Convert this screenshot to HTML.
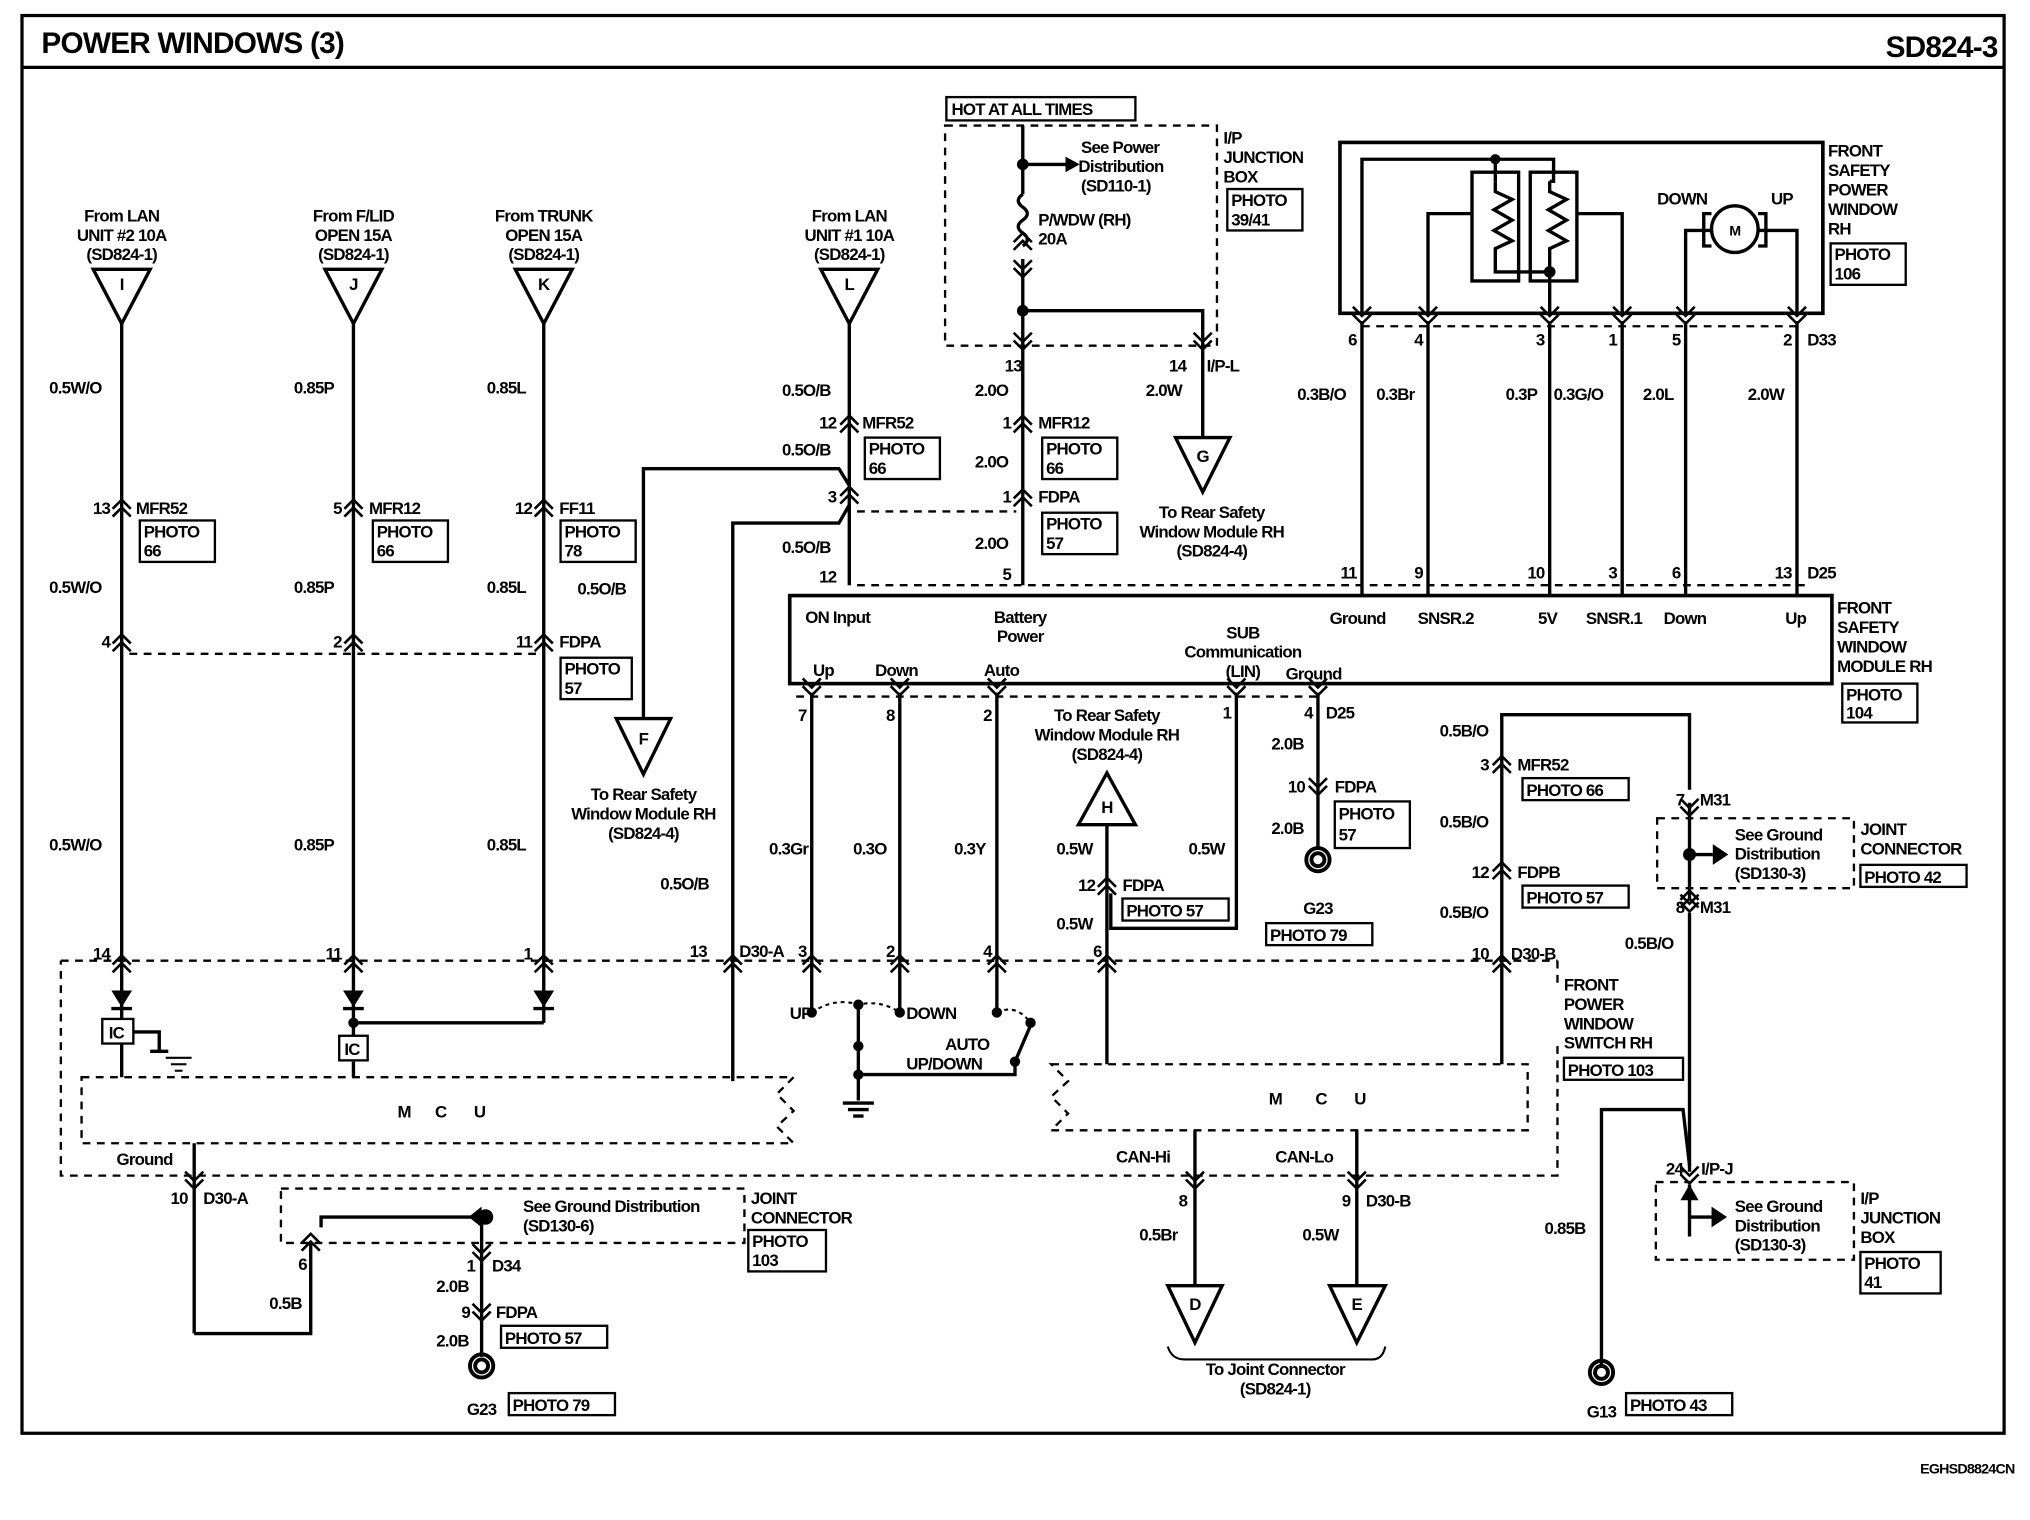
<!DOCTYPE html>
<html><head><meta charset="utf-8"><style>
html,body{margin:0;padding:0;background:#fff}
svg{display:block}
text{font-family:"Liberation Sans",Arial,sans-serif;font-weight:bold;font-size:13px;fill:#000;letter-spacing:-0.6px}
.w{stroke:#000;stroke-width:2.6;fill:none}
.th{stroke:#000;stroke-width:1.6;fill:none}
.ds{stroke:#000;stroke-width:1.8;fill:none;stroke-dasharray:6,5}
.pb{stroke:#000;stroke-width:1.8;fill:#fff}
.m{text-anchor:middle}
.e{text-anchor:end}
</style></head><body>
<svg width="2030" height="1520" viewBox="0 0 1568 1174" preserveAspectRatio="none" xmlns="http://www.w3.org/2000/svg">
<defs>
<path id="c" d="M-7,5 L0,-2 L7,5 M-7,11 L0,4 L7,11" stroke="#000" stroke-width="2" fill="none"/>
<path id="d" d="M-7,-5 L0,2 L7,-5 M-7,-11 L0,-4 L7,-11" stroke="#000" stroke-width="2" fill="none"/>
<path id="gnd" d="M-9,0 A9,9 0 1,1 9,0 A9,9 0 1,1 -9,0 M-5,0 A5,5 0 1,1 5,0 A5,5 0 1,1 -5,0" stroke="#000" stroke-width="3" fill="none"/>
</defs>
<rect x="17" y="12" width="1531" height="1095" fill="none" stroke="#000" stroke-width="2.5"/>
<line x1="17" y1="52" x2="1548" y2="52" stroke="#000" stroke-width="2.5"/>
<text x="32" y="41" style="font-size:23px">POWER WINDOWS (3)</text>
<text x="1543" y="44" class="e" style="font-size:23px">SD824-3</text>
<text x="1556" y="1138" class="e" style="font-size:11px">EGHSD8824CN</text>

<!-- source triangles -->
<g class="w">
<path d="M72,208 L116,208 L94,250 Z"/><path d="M251,208 L295,208 L273,250 Z"/><path d="M398,208 L442,208 L420,250 Z"/><path d="M634,208 L678,208 L656,250 Z"/>
<path d="M476,555 L518,555 L497,598 Z"/><path d="M908,338 L950,338 L929,380 Z"/><path d="M833,637 L877,637 L855,597 Z"/>
<path d="M902,993 L944,993 L923,1037 Z"/><path d="M1027,993 L1070,993 L1048,1037 Z"/>
</g>
<text x="94" y="224" class="m">I</text><text x="273" y="224" class="m">J</text><text x="420" y="224" class="m">K</text><text x="656" y="224" class="m">L</text>
<text x="497" y="575" class="m">F</text><text x="929" y="357" class="m">G</text><text x="855" y="628" class="m">H</text>
<text x="923" y="1012" class="m">D</text><text x="1048" y="1012" class="m">E</text>
<text x="94" y="171" class="m">From LAN</text><text x="94" y="186" class="m">UNIT #2 10A</text><text x="94" y="201" class="m">(SD824-1)</text>
<text x="273" y="171" class="m">From F/LID</text><text x="273" y="186" class="m">OPEN 15A</text><text x="273" y="201" class="m">(SD824-1)</text>
<text x="420" y="171" class="m">From TRUNK</text><text x="420" y="186" class="m">OPEN 15A</text><text x="420" y="201" class="m">(SD824-1)</text>
<text x="656" y="171" class="m">From LAN</text><text x="656" y="186" class="m">UNIT #1 10A</text><text x="656" y="201" class="m">(SD824-1)</text>

<!-- vertical wires left -->
<g class="w">
<line x1="94" y1="250" x2="94" y2="790"/><line x1="273" y1="250" x2="273" y2="800"/><line x1="420" y1="250" x2="420" y2="790"/>
<line x1="656" y1="250" x2="656" y2="452"/>
<path d="M497,555 L497,362 L648,362 L656,375"/>
<path d="M566,835 L566,404 L648,404 L656,390"/>
<path d="M273,790 L420,790"/>
</g>
<g>
<use href="#c" x="94" y="388"/><use href="#c" x="94" y="492"/><use href="#c" x="94" y="740"/>
<use href="#c" x="273" y="388"/><use href="#c" x="273" y="492"/><use href="#c" x="273" y="740"/>
<use href="#c" x="420" y="388"/><use href="#c" x="420" y="492"/><use href="#c" x="420" y="740"/>
<use href="#c" x="656" y="323"/><use href="#c" x="656" y="378"/>
<use href="#c" x="566" y="740"/><use href="#c" x="627" y="740"/><use href="#c" x="695" y="740"/><use href="#c" x="770" y="740"/><use href="#c" x="855" y="740"/><use href="#c" x="1160" y="740"/>
</g>
<line class="ds" x1="100" y1="505" x2="415" y2="505"/>
<text x="38" y="304">0.5W/O</text><text x="38" y="458">0.5W/O</text><text x="38" y="657">0.5W/O</text>
<text x="227" y="304">0.85P</text><text x="227" y="458">0.85P</text><text x="227" y="657">0.85P</text>
<text x="376" y="304">0.85L</text><text x="376" y="458">0.85L</text><text x="376" y="657">0.85L</text>
<text x="85" y="397" class="e">13</text><text x="105" y="397">MFR52</text>
<text x="264" y="397" class="e">5</text><text x="285" y="397">MFR12</text>
<text x="411" y="397" class="e">12</text><text x="432" y="397">FF11</text>
<text x="85" y="500" class="e">4</text><text x="264" y="500" class="e">2</text><text x="411" y="500" class="e">11</text><text x="432" y="500">FDPA</text>
<text x="85" y="741" class="e">14</text><text x="264" y="741" class="e">11</text><text x="411" y="741" class="e">1</text>
<text x="446" y="459">0.5O/B</text>
<text x="510" y="687">0.5O/B</text>
<text x="497" y="618" class="m">To Rear Safety</text><text x="497" y="633" class="m">Window Module RH</text><text x="497" y="648" class="m">(SD824-4)</text>

<!-- photo boxes -->
<g class="pb">
<rect x="108" y="402" width="58" height="32"/><rect x="288" y="402" width="58" height="32"/><rect x="433" y="402" width="58" height="32"/><rect x="433" y="508" width="55" height="32"/>
<rect x="668" y="338" width="58" height="32"/><rect x="805" y="338" width="58" height="32"/><rect x="805" y="396" width="58" height="32"/>
<rect x="948" y="146" width="58" height="32"/><rect x="1414" y="188" width="58" height="32"/><rect x="1423" y="528" width="58" height="30"/>
<rect x="1031" y="619" width="58" height="36"/><rect x="1176" y="601" width="82" height="17"/><rect x="1176" y="684" width="82" height="17"/>
<rect x="1437" y="668" width="82" height="17"/><rect x="1208" y="817" width="92" height="17"/><rect x="1437" y="967" width="62" height="32"/>
<rect x="867" y="694" width="82" height="17"/><rect x="978" y="713" width="82" height="17"/><rect x="578" y="950" width="60" height="32"/>
<rect x="387" y="1024" width="82" height="17"/><rect x="393" y="1076" width="82" height="17"/><rect x="1256" y="1076" width="82" height="17"/>
</g>
<text x="111" y="415">PHOTO</text><text x="111" y="430">66</text>
<text x="291" y="415">PHOTO</text><text x="291" y="430">66</text>
<text x="436" y="415">PHOTO</text><text x="436" y="430">78</text>
<text x="436" y="521">PHOTO</text><text x="436" y="536">57</text>
<text x="671" y="351">PHOTO</text><text x="671" y="366">66</text>
<text x="808" y="351">PHOTO</text><text x="808" y="366">66</text>
<text x="808" y="409">PHOTO</text><text x="808" y="424">57</text>
<text x="951" y="159">PHOTO</text><text x="951" y="174">39/41</text>
<text x="1417" y="201">PHOTO</text><text x="1417" y="216">106</text>
<text x="1426" y="541">PHOTO</text><text x="1426" y="555">104</text>
<text x="1034" y="633">PHOTO</text><text x="1034" y="649">57</text>
<text x="1179" y="615">PHOTO 66</text><text x="1179" y="698">PHOTO 57</text><text x="1440" y="682">PHOTO 42</text>
<text x="1211" y="831">PHOTO 103</text>
<text x="1440" y="980">PHOTO</text><text x="1440" y="995">41</text>
<text x="870" y="708">PHOTO 57</text><text x="981" y="727">PHOTO 79</text>
<text x="581" y="963">PHOTO</text><text x="581" y="978">103</text>
<text x="390" y="1038">PHOTO 57</text><text x="396" y="1090">PHOTO 79</text><text x="1259" y="1090">PHOTO 43</text>

<!-- column L and power -->
<text x="604" y="306">0.5O/B</text><text x="604" y="352">0.5O/B</text><text x="604" y="427">0.5O/B</text>
<text x="646" y="331" class="e">12</text><text x="666" y="331">MFR52</text>
<text x="646" y="388" class="e">3</text><text x="646" y="450" class="e">12</text>
<line class="ds" x1="662" y1="395" x2="785" y2="395"/>
<rect x="731" y="75" width="146" height="18" class="pb"/><text x="735" y="89">HOT AT ALL TIMES</text>
<rect x="730" y="97" width="210" height="170" class="ds"/>
<text x="945" y="111">I/P</text><text x="945" y="126">JUNCTION</text><text x="945" y="141">BOX</text>
<g class="w">
<line x1="790" y1="97" x2="790" y2="150"/>
<path d="M790,150 q-7,5 0,10 q7,5 0,10 q-7,5 0,10 q7,5 0,10"/>
<line x1="790" y1="200" x2="790" y2="452"/>
<path d="M790,240 L929,240 L929,338"/>
<path d="M790,127 L825,127"/>
</g>
<path d="M823,121 L834,127 L823,133 Z"/>
<circle cx="790" cy="127" r="4.5"/><circle cx="790" cy="240" r="4.5"/>
<use href="#c" x="790" y="182"/><use href="#d" x="790" y="212"/>
<text x="835" y="118">See Power</text><text x="833" y="133">Distribution</text><text x="835" y="148">(SD110-1)</text>
<text x="802" y="174">P/WDW (RH)</text><text x="802" y="189">20A</text>
<use href="#d" x="790" y="268"/><use href="#d" x="929" y="268"/>
<text x="776" y="287">13</text><text x="903" y="287">14</text><text x="932" y="287">I/P-L</text>
<text x="753" y="306">2.0O</text><text x="885" y="306">2.0W</text>
<use href="#c" x="790" y="323"/><text x="781" y="331" class="e">1</text><text x="802" y="331">MFR12</text>
<text x="753" y="361">2.0O</text>
<use href="#c" x="790" y="380"/><text x="781" y="388" class="e">1</text><text x="802" y="388">FDPA</text>
<text x="753" y="424">2.0O</text><text x="781" y="448" class="e">5</text>
<text x="936" y="400" class="m">To Rear Safety</text><text x="936" y="415" class="m">Window Module RH</text><text x="936" y="430" class="m">(SD824-4)</text>

<!-- Front safety power window RH -->
<rect x="1035" y="110" width="373" height="132" fill="none" stroke="#000" stroke-width="2.8"/>
<text x="1412" y="121">FRONT</text><text x="1412" y="136">SAFETY</text><text x="1412" y="151">POWER</text><text x="1412" y="166">WINDOW</text><text x="1412" y="181">RH</text>
<g class="w">
<rect x="1137" y="133" width="36" height="84"/><rect x="1182" y="133" width="36" height="84"/>
<path d="M1052,242 L1052,123 L1200,123 L1200,140 L1197,140 M1155,123 L1155,140"/>
<path d="M1155,140 l0,8 l13,6 l-14,8 l14,8 l-14,8 l14,8 l-13,6 l0,8 L1155,210 L1197,210 M1197,140 l0,8 l13,6 l-14,8 l14,8 l-14,8 l14,8 l-13,6 l0,8 L1197,242"/>
<path d="M1103,242 L1103,165 L1137,165 M1218,165 L1253,165 L1253,242"/>
<path d="M1302,242 L1302,178 L1322,178 M1358,178 L1388,178 L1388,242"/>
<circle cx="1340" cy="177" r="18"/>
<path d="M1322,165 L1316,165 L1316,190 L1322,190 M1358,165 L1364,165 L1364,190 L1358,190"/>
</g>
<circle cx="1155" cy="123" r="4"/><circle cx="1197" cy="210" r="4.5"/>
<text x="1340" y="182" class="m" style="font-size:11px">M</text>
<text x="1280" y="158">DOWN</text><text x="1368" y="158">UP</text>
<line class="ds" x1="1052" y1="252" x2="1388" y2="252"/>
<g><use href="#d" x="1052" y="248"/><use href="#d" x="1103" y="248"/><use href="#d" x="1197" y="248"/><use href="#d" x="1253" y="248"/><use href="#d" x="1302" y="248"/><use href="#d" x="1388" y="248"/></g>
<g class="w"><line x1="1052" y1="248" x2="1052" y2="460"/><line x1="1103" y1="248" x2="1103" y2="460"/><line x1="1197" y1="248" x2="1197" y2="460"/><line x1="1253" y1="248" x2="1253" y2="460"/><line x1="1302" y1="248" x2="1302" y2="460"/><line x1="1388" y1="248" x2="1388" y2="460"/></g>
<text x="1048" y="267" class="e">6</text><text x="1099" y="267" class="e">4</text><text x="1193" y="267" class="e">3</text><text x="1249" y="267" class="e">1</text><text x="1298" y="267" class="e">5</text><text x="1384" y="267" class="e">2</text><text x="1396" y="267">D33</text>
<text x="1002" y="309">0.3B/O</text><text x="1063" y="309">0.3Br</text><text x="1163" y="309">0.3P</text><text x="1200" y="309">0.3G/O</text><text x="1269" y="309">2.0L</text><text x="1350" y="309">2.0W</text>
<text x="1048" y="447" class="e">11</text><text x="1099" y="447" class="e">9</text><text x="1193" y="447" class="e">10</text><text x="1249" y="447" class="e">3</text><text x="1298" y="447" class="e">6</text><text x="1384" y="447" class="e">13</text><text x="1396" y="447">D25</text>
<line class="ds" x1="662" y1="452" x2="1395" y2="452"/>

<!-- module -->
<rect x="610" y="460" width="805" height="68" fill="#fff" stroke="#000" stroke-width="2.8"/>
<text x="622" y="481">ON Input</text><text x="788" y="481" class="m">Battery</text><text x="788" y="496" class="m">Power</text>
<text x="960" y="493" class="m">SUB</text><text x="960" y="508" class="m">Communication</text><text x="960" y="523" class="m">(LIN)</text>
<text x="1027" y="482">Ground</text><text x="1095" y="482">SNSR.2</text><text x="1188" y="482">5V</text><text x="1225" y="482">SNSR.1</text><text x="1285" y="482">Down</text><text x="1379" y="482">Up</text>
<text x="628" y="522">Up</text><text x="676" y="522">Down</text><text x="760" y="522">Auto</text><text x="993" y="525">Ground</text>
<text x="1419" y="474">FRONT</text><text x="1419" y="489">SAFETY</text><text x="1419" y="504">WINDOW</text><text x="1419" y="519">MODULE RH</text>
<line class="ds" x1="615" y1="538" x2="1020" y2="538"/>
<g><use href="#d" x="627" y="535"/><use href="#d" x="695" y="535"/><use href="#d" x="770" y="535"/><use href="#d" x="955" y="535"/><use href="#d" x="1018" y="535"/></g>
<g class="w">
<line x1="627" y1="535" x2="627" y2="782"/><line x1="695" y1="535" x2="695" y2="782"/><line x1="770" y1="535" x2="770" y2="782"/>
<path d="M955,535 L955,717 L858,717 L858,690"/><line x1="855" y1="637" x2="855" y2="822"/>
<line x1="1018" y1="535" x2="1018" y2="655"/>
</g>
<text x="623" y="557" class="e">7</text><text x="691" y="557" class="e">8</text><text x="766" y="557" class="e">2</text><text x="951" y="555" class="e">1</text><text x="1014" y="555" class="e">4</text><text x="1024" y="555">D25</text>
<text x="855" y="557" class="m">To Rear Safety</text><text x="855" y="572" class="m">Window Module RH</text><text x="855" y="587" class="m">(SD824-4)</text>
<text x="594" y="660">0.3Gr</text><text x="659" y="660">0.3O</text><text x="737" y="660">0.3Y</text><text x="816" y="660">0.5W</text><text x="918" y="660">0.5W</text><text x="816" y="718">0.5W</text>
<use href="#c" x="855" y="680"/><text x="846" y="688" class="e">12</text><text x="867" y="688">FDPA</text>
<text x="982" y="579">2.0B</text>
<use href="#d" x="1018" y="612"/><text x="1008" y="612" class="e">10</text><text x="1031" y="612">FDPA</text>
<text x="982" y="644">2.0B</text>
<use href="#gnd" x="1018" y="664"/><text x="1018" y="706" class="m">G23</text>

<!-- right side M31 -->
<g class="w">
<path d="M1160,822 L1160,552 L1305,552 L1305,610"/>
<line x1="1305" y1="620" x2="1305" y2="695"/>
<line x1="1305" y1="705" x2="1305" y2="905"/>
<path d="M1237,1055 L1237,857 L1300,857 L1305,900"/>
<path d="M1305,660 L1323,660"/>
</g>
<path d="M1323,652 L1335,660 L1323,668 Z"/>
<circle cx="1305" cy="660" r="5"/>
<use href="#d" x="1305" y="628"/><use href="#c" x="1305" y="690"/><use href="#d" x="1305" y="702"/>
<use href="#c" x="1160" y="586"/><use href="#c" x="1160" y="668"/>
<text x="1112" y="569">0.5B/O</text><text x="1150" y="595" class="e">3</text><text x="1172" y="595">MFR52</text>
<text x="1112" y="639">0.5B/O</text><text x="1150" y="678" class="e">12</text><text x="1172" y="678">FDPB</text>
<text x="1112" y="709">0.5B/O</text><text x="1255" y="733">0.5B/O</text>
<text x="1301" y="622" class="e">7</text><text x="1313" y="622">M31</text><text x="1301" y="705" class="e">8</text><text x="1313" y="705">M31</text>
<rect x="1280" y="632" width="152" height="54" class="ds"/>
<text x="1340" y="649">See Ground</text><text x="1340" y="664">Distribution</text><text x="1340" y="679">(SD130-3)</text>
<text x="1437" y="645">JOINT</text><text x="1437" y="660">CONNECTOR</text>
<text x="1150" y="741" class="e">10</text><text x="1167" y="741">D30-B</text>
<text x="1208" y="765">FRONT</text><text x="1208" y="780">POWER</text><text x="1208" y="795">WINDOW</text><text x="1208" y="810">SWITCH RH</text>

<!-- D30 row -->
<line class="ds" x1="47" y1="742" x2="1203" y2="742"/>
<path class="ds" d="M1203,742 L1203,760 M1203,808 L1203,908 L47,908 L47,742"/>
<text x="546" y="739" class="e">13</text><text x="571" y="739">D30-A</text>
<text x="623" y="739" class="e">3</text><text x="691" y="739" class="e">2</text><text x="766" y="739" class="e">4</text><text x="851" y="739" class="e">6</text>

<!-- left MCU -->
<g class="w">
<line x1="94" y1="790" x2="94" y2="832"/><line x1="273" y1="820" x2="273" y2="832"/>
<path d="M103,797 L123,797 L123,812 M116,812 L130,812"/>
<line x1="150" y1="883" x2="150" y2="1030"/><path d="M150,1030 L240,1030 L240,960"/>
</g>
<g class="th"><line x1="128" y1="817" x2="148" y2="817"/><line x1="132" y1="822" x2="144" y2="822"/><line x1="135" y1="827" x2="141" y2="827"/></g>
<g fill="#000"><path d="M86,765 L102,765 L94,778 Z"/><path d="M265,765 L281,765 L273,778 Z"/><path d="M412,765 L428,765 L420,778 Z"/></g>
<g class="w"><line x1="86" y1="779" x2="102" y2="779"/><line x1="265" y1="779" x2="281" y2="779"/><line x1="412" y1="779" x2="428" y2="779"/></g>
<circle cx="273" cy="790" r="4"/>
<rect x="79" y="787" width="24" height="19" class="pb"/><text x="84" y="802">IC</text>
<rect x="262" y="800" width="22" height="19" class="pb"/><text x="266" y="815">IC</text>
<path class="ds" d="M63,832 L613,832 L600,845 L613,858 L600,870 L613,883 L63,883 Z"/>
<text x="307" y="863">M</text><text x="336" y="863">C</text><text x="366" y="863">U</text>
<text x="90" y="900">Ground</text>
<use href="#d" x="150" y="916"/><text x="145" y="930" class="e">10</text><text x="157" y="930">D30-A</text>
<rect x="217" y="918" width="358" height="42" class="ds"/>
<use href="#c" x="240" y="955"/><text x="237" y="981" class="e">6</text><text x="208" y="1011">0.5B</text>
<path class="w" d="M372,940 L248,940 L248,948"/><path d="M372,932 L362,940 L372,948 Z"/><circle cx="375" cy="940" r="6"/>
<text x="404" y="936">See Ground Distribution</text><text x="404" y="951">(SD130-6)</text>
<text x="580" y="930">JOINT</text><text x="580" y="945">CONNECTOR</text>
<line class="w" x1="372" y1="940" x2="372" y2="1048"/>
<use href="#d" x="372" y="972"/><text x="367" y="982" class="e">1</text><text x="380" y="982">D34</text>
<text x="337" y="998">2.0B</text><use href="#d" x="372" y="1018"/><text x="363" y="1018" class="e">9</text><text x="383" y="1018">FDPA</text>
<text x="337" y="1040">2.0B</text><use href="#gnd" x="372" y="1055"/><text x="372" y="1093" class="m">G23</text>

<!-- switches -->
<g class="w">
<line x1="627" y1="782" x2="627" y2="782"/>
<line x1="663" y1="776" x2="663" y2="850"/><path d="M663,830 L784,830 L784,820 L796,792"/>
</g>
<g class="th" style="stroke-dasharray:3,3"><path d="M627,782 Q645,770 663,776 Q680,772 695,782"/><path d="M770,782 Q785,775 796,790"/></g>
<g fill="#000"><circle cx="627" cy="782" r="4"/><circle cx="663" cy="776" r="4"/><circle cx="695" cy="782" r="4"/><circle cx="770" cy="782" r="4"/><circle cx="796" cy="790" r="4"/><circle cx="784" cy="820" r="4"/><circle cx="663" cy="808" r="4"/><circle cx="663" cy="830" r="4"/></g>
<g class="w"><line x1="651" y1="852" x2="675" y2="852"/><line x1="655" y1="857" x2="671" y2="857"/><line x1="659" y1="862" x2="667" y2="862"/></g>
<text x="610" y="787">UP</text><text x="700" y="787">DOWN</text><text x="730" y="811">AUTO</text><text x="700" y="826">UP/DOWN</text>

<!-- right MCU -->
<path class="ds" d="M812,822 L1180,822 L1180,873 L812,873 L825,860 L812,847 L825,835 Z"/>
<text x="980" y="853">M</text><text x="1016" y="853">C</text><text x="1046" y="853">U</text>
<g class="w"><line x1="923" y1="873" x2="923" y2="993"/><line x1="1048" y1="873" x2="1048" y2="993"/></g>
<text x="862" y="898">CAN-Hi</text><text x="985" y="898">CAN-Lo</text>
<use href="#d" x="923" y="916"/><use href="#d" x="1048" y="916"/>
<text x="917" y="932" class="e">8</text><text x="1043" y="932" class="e">9</text><text x="1055" y="932">D30-B</text>
<text x="880" y="958">0.5Br</text><text x="1006" y="958">0.5W</text>
<path class="th" d="M902,1040 Q905,1050 915,1050 L1060,1050 Q1068,1050 1070,1040"/>
<text x="985" y="1062" class="m">To Joint Connector</text><text x="985" y="1077" class="m">(SD824-1)</text>

<!-- bottom right -->
<use href="#d" x="1305" y="912"/><text x="1300" y="907" class="e">24</text><text x="1314" y="907">I/P-J</text>
<rect x="1279" y="913" width="153" height="60" class="ds"/>
<path class="w" d="M1305,915 L1305,955 M1305,940 L1322,940"/><path d="M1298,927 L1305,915 L1312,927 Z"/><path d="M1322,932 L1334,940 L1322,948 Z"/>
<text x="1340" y="936">See Ground</text><text x="1340" y="951">Distribution</text><text x="1340" y="966">(SD130-3)</text>
<text x="1437" y="930">I/P</text><text x="1437" y="945">JUNCTION</text><text x="1437" y="960">BOX</text>
<text x="1193" y="953">0.85B</text>
<use href="#gnd" x="1237" y="1060"/><text x="1237" y="1095" class="m">G13</text>
</svg>
</body></html>
